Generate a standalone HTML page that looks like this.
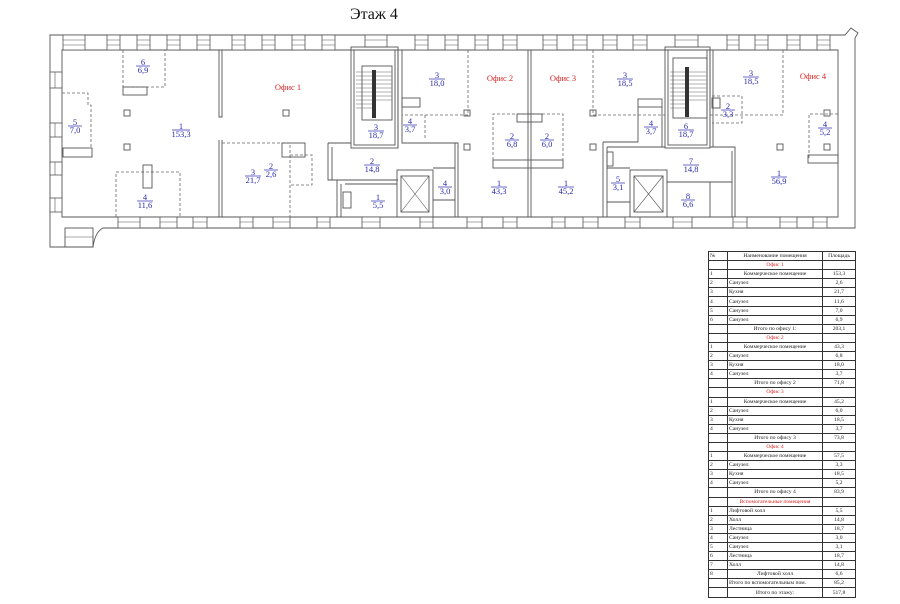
<!DOCTYPE html>
<html><head><meta charset="utf-8"><style>
body{margin:0;background:#fff;width:900px;height:604px;overflow:hidden;position:relative;font-family:"Liberation Serif",serif}
svg{position:absolute;left:0;top:0}
.w{fill:none;stroke:#555;stroke-width:0.9}
.d{fill:none;stroke:#666;stroke-width:0.8;stroke-dasharray:3,2}
.l text{font-family:"Liberation Serif",serif;font-size:8.5px;fill:#2b2bb0;text-anchor:middle}
.l line{stroke:#2b2bb0;stroke-width:0.7}
.r{font-family:"Liberation Serif",serif;font-size:8.5px;fill:#d22;text-anchor:middle}
table{position:absolute;left:708px;top:251px;width:147px;border-collapse:collapse;table-layout:fixed;font-family:"Liberation Serif",serif;font-size:5.6px;color:#222}
td{border:0.8px solid #333;height:8.1px;padding:0 1px;line-height:8px;white-space:nowrap;overflow:hidden}
td.c{text-align:center}td.red{color:#d22;text-align:center}
</style></head><body>
<svg width="900" height="604" viewBox="0 0 900 604">
<text x="350" y="19" font-family="Liberation Serif" font-size="16" fill="#111">Этаж 4</text>
<!-- outer walls -->
<path class="w" d="M50,35 H845 L851,28 L858,33 L855,38 V228 H103 Q95,232 93,247 H50 Z"/>
<path class="w" d="M62,50 H838 V217 H62 Z"/>
<rect class="w" x="65" y="228" width="28" height="19"/>
<!-- top windows -->
<g fill="#fff" stroke="#555" stroke-width="0.8">
<rect x="63" y="35" width="22" height="15"/><rect x="107" y="35" width="13" height="15"/><rect x="137" y="35" width="13" height="15"/><rect x="167" y="35" width="13" height="15"/><rect x="197" y="35" width="13" height="15"/><rect x="232" y="35" width="13" height="15"/><rect x="262" y="35" width="13" height="15"/><rect x="292" y="35" width="13" height="15"/><rect x="322" y="35" width="13" height="15"/><rect x="365" y="35" width="22" height="12"/><rect x="415" y="35" width="13" height="15"/><rect x="445" y="35" width="13" height="15"/><rect x="475" y="35" width="13" height="15"/><rect x="503" y="35" width="14" height="15"/><rect x="543" y="35" width="14" height="15"/><rect x="573" y="35" width="14" height="15"/><rect x="603" y="35" width="14" height="15"/><rect x="633" y="35" width="14" height="15"/><rect x="675" y="35" width="23" height="12"/><rect x="727" y="35" width="12" height="15"/><rect x="755" y="35" width="13" height="15"/><rect x="787" y="35" width="13" height="15"/><rect x="817" y="35" width="13" height="15"/>
<!-- bottom windows -->
<rect x="118" y="217" width="22" height="11"/><rect x="160" y="217" width="17" height="11"/><rect x="193" y="217" width="14" height="11"/><rect x="240" y="217" width="13" height="11"/><rect x="273" y="217" width="17" height="11"/><rect x="317" y="217" width="13" height="11"/><rect x="362" y="217" width="18" height="11"/><rect x="420" y="217" width="13" height="11"/><rect x="467" y="217" width="15" height="11"/><rect x="503" y="217" width="14" height="11"/><rect x="552" y="217" width="13" height="11"/><rect x="583" y="217" width="15" height="11"/><rect x="625" y="217" width="15" height="11"/><rect x="673" y="217" width="19" height="11"/><rect x="733" y="217" width="14" height="11"/><rect x="780" y="217" width="17" height="11"/><rect x="813" y="217" width="14" height="11"/>
<!-- left windows -->
<rect x="50" y="72" width="12" height="16"/><rect x="50" y="123" width="12" height="14"/><rect x="50" y="162" width="12" height="13"/><rect x="50" y="198" width="12" height="14"/>
</g>
<g stroke="#555" stroke-width="0.6">
<path d="M63,40H85M63,45H85M107,40H120M107,45H120M137,40H150M137,45H150M167,40H180M167,45H180M197,40H210M197,45H210M232,40H245M232,45H245M262,40H275M262,45H275M292,40H305M292,45H305M322,40H335M322,45H335M365,40H387M415,40H428M415,45H428M445,40H458M445,45H458M475,40H488M475,45H488M503,40H517M503,45H517M543,40H557M543,45H557M573,40H587M573,45H587M603,40H617M603,45H617M633,40H647M633,45H647M675,40H698M727,40H739M727,45H739M755,40H768M755,45H768M787,40H800M787,45H800M817,40H830M817,45H830"/>
<path d="M118,222H140M160,222H177M193,222H207M240,222H253M273,222H290M317,222H330M362,222H380M420,222H433M467,222H482M503,222H517M552,222H565M583,222H598M625,222H640M673,222H692M733,222H747M780,222H797M813,222H827M65,237H93M55,72V88M55,123V137M55,162V175M55,198V212"/>
</g>
<!-- partitions -->
<path class="w" d="M219,50V117H222V50M219,140V217M222,140V217"/>
<path class="w" d="M528,50V217M531,50V217"/>
<path class="w" d="M398,50V148M402,50V143H458V217M455,143V217"/>
<path class="w" d="M710,50V147M713,50V147"/>
<!-- stair 1 -->
<rect class="w" x="351" y="47" width="47" height="101"/><rect class="w" x="354" y="50" width="41" height="95"/>
<rect class="w" x="362" y="66" width="30" height="54"/>
<path stroke="#666" stroke-width="0.6" d="M356,72H392M356,76H392M356,80H392M356,84H392M356,88H392M356,92H392M356,96H392M356,100H392M356,104H372M356,108H372"/>
<rect x="372" y="70" width="4" height="48" fill="#333"/>
<!-- hall 1 -->
<path class="w" d="M328,143H351M328,143V180H337V217M332,147V180M332,180H398M341,184V217M345,184H397"/>
<rect class="w" x="343" y="192" width="8" height="16"/>
<!-- lift 1 -->
<rect class="w" x="397" y="170" width="36" height="47"/><rect class="w" x="401" y="176" width="28" height="36"/>
<path stroke="#555" stroke-width="0.6" d="M401,176L429,212M429,176L401,212"/>
<path class="w" d="M433,168H455M433,200H455"/>
<!-- stair 2 -->
<rect class="w" x="665" y="47" width="45" height="101"/><rect class="w" x="668" y="50" width="39" height="95"/>
<rect class="w" x="673" y="58" width="34" height="60"/>
<path stroke="#666" stroke-width="0.6" d="M670,72H706M670,76H706M670,80H706M670,84H706M670,88H706M670,92H706M670,96H706M670,100H706M670,104H686M670,108H686"/>
<rect x="685" y="67" width="4" height="50" fill="#333"/>
<!-- core 2 -->
<path class="w" d="M603,142V217M607,147V217M603,142H638M638,107V142M662,107V147M607,147H665M710,147H735V217M732,151V217M607,168H630M607,202H630M667,182H732M710,182V217"/>
<rect class="w" x="630" y="170" width="37" height="47"/><rect class="w" x="634" y="176" width="29" height="36"/>
<path stroke="#555" stroke-width="0.6" d="M634,176L663,212M663,176L634,212"/>
<!-- dashed rooms -->
<path class="d" d="M123,50V87H165V50"/>
<path class="d" d="M62,93H88V105H91V148"/>
<path class="d" d="M116,217V172H180V217"/>
<path class="d" d="M222,143H290V217M290,155H312V185H290"/>
<path class="d" d="M468,50V115H402M425,115V140"/>
<path class="d" d="M493,160V114H563V160"/>
<path class="d" d="M593,50V115H665M638,115V107"/>
<path class="d" d="M783,50V115H710M712,96H742V123H712"/>
<path class="d" d="M838,114H809V160"/>
<!-- fixtures -->
<g class="w"><rect x="123" y="87" width="24" height="8"/><rect x="63" y="148" width="29" height="9"/><rect x="143" y="165" width="9" height="23"/><rect x="282" y="143" width="23" height="14"/><rect x="517" y="114" width="25" height="8"/><rect x="493" y="160" width="70" height="8"/><rect x="638" y="99" width="24" height="8"/><rect x="712" y="98" width="8" height="10"/><rect x="808" y="155" width="30" height="8"/><rect x="402" y="98" width="18" height="9"/><rect x="607" y="152" width="6" height="14"/>
<rect x="124" y="110" width="6" height="6"/><rect x="124" y="144" width="6" height="6"/><rect x="283" y="110" width="6" height="6"/><rect x="464" y="110" width="6" height="6"/><rect x="464" y="144" width="6" height="6"/><rect x="590" y="110" width="6" height="6"/><rect x="590" y="144" width="6" height="6"/><rect x="777" y="144" width="6" height="6"/><rect x="824" y="110" width="6" height="6"/><rect x="824" y="144" width="6" height="6"/></g>
<!-- red labels -->
<text class="r" x="288" y="90">Офис 1</text><text class="r" x="500" y="81">Офис 2</text><text class="r" x="563" y="81">Офис 3</text><text class="r" x="813" y="79">Офис 4</text>
<!-- blue labels -->
<g class="l" transform="translate(143,66)"><text y="-1">6</text><line x1="-7" x2="7"/><text y="7">6,9</text></g>
<g class="l" transform="translate(75,126)"><text y="-1">5</text><line x1="-7" x2="7"/><text y="7">7,0</text></g>
<g class="l" transform="translate(181,130)"><text y="-1">1</text><line x1="-9" x2="9"/><text y="7">153,3</text></g>
<g class="l" transform="translate(145,201)"><text y="-1">4</text><line x1="-8" x2="8"/><text y="7">11,6</text></g>
<g class="l" transform="translate(253,176)"><text y="-1">3</text><line x1="-8" x2="8"/><text y="7">21,7</text></g>
<g class="l" transform="translate(271,170)"><text y="-1">2</text><line x1="-7" x2="7"/><text y="7">2,6</text></g>
<g class="l" transform="translate(376,131)"><text y="-1">3</text><line x1="-8" x2="8"/><text y="7">18,7</text></g>
<g class="l" transform="translate(372,165)"><text y="-1">2</text><line x1="-8" x2="8"/><text y="7">14,8</text></g>
<g class="l" transform="translate(378,201)"><text y="-1">1</text><line x1="-7" x2="7"/><text y="7">5,5</text></g>
<g class="l" transform="translate(445,187)"><text y="-1">4</text><line x1="-7" x2="7"/><text y="7">3,0</text></g>
<g class="l" transform="translate(437,79)"><text y="-1">3</text><line x1="-8" x2="8"/><text y="7">18,0</text></g>
<g class="l" transform="translate(410,125)"><text y="-1">4</text><line x1="-7" x2="7"/><text y="7">3,7</text></g>
<g class="l" transform="translate(512,140)"><text y="-1">2</text><line x1="-7" x2="7"/><text y="7">6,8</text></g>
<g class="l" transform="translate(547,140)"><text y="-1">2</text><line x1="-7" x2="7"/><text y="7">6,0</text></g>
<g class="l" transform="translate(499,187)"><text y="-1">1</text><line x1="-8" x2="8"/><text y="7">43,3</text></g>
<g class="l" transform="translate(566,187)"><text y="-1">1</text><line x1="-8" x2="8"/><text y="7">45,2</text></g>
<g class="l" transform="translate(625,79)"><text y="-1">3</text><line x1="-8" x2="8"/><text y="7">18,5</text></g>
<g class="l" transform="translate(651,127)"><text y="-1">4</text><line x1="-7" x2="7"/><text y="7">3,7</text></g>
<g class="l" transform="translate(686,130)"><text y="-1">6</text><line x1="-8" x2="8"/><text y="7">18,7</text></g>
<g class="l" transform="translate(618,183)"><text y="-1">5</text><line x1="-7" x2="7"/><text y="7">3,1</text></g>
<g class="l" transform="translate(691,165)"><text y="-1">7</text><line x1="-8" x2="8"/><text y="7">14,8</text></g>
<g class="l" transform="translate(688,200)"><text y="-1">8</text><line x1="-7" x2="7"/><text y="7">6,6</text></g>
<g class="l" transform="translate(751,77)"><text y="-1">3</text><line x1="-8" x2="8"/><text y="7">18,5</text></g>
<g class="l" transform="translate(728,110)"><text y="-1">2</text><line x1="-7" x2="7"/><text y="7">3,3</text></g>
<g class="l" transform="translate(825,128)"><text y="-1">4</text><line x1="-7" x2="7"/><text y="7">5,2</text></g>
<g class="l" transform="translate(779,177)"><text y="-1">1</text><line x1="-8" x2="8"/><text y="7">56,9</text></g>
</svg>
<table>
<colgroup><col style="width:19px"><col style="width:95px"><col style="width:33px"></colgroup>
<tr><td>№</td><td class="c">Наименование помещения</td><td class="c">Площадь</td></tr>
<tr><td></td><td class="red">Офис 1</td><td></td></tr>
<tr><td>1</td><td class="c">Коммерческое помещение</td><td class="c">153,3</td></tr>
<tr><td>2</td><td>Санузел</td><td class="c">2,6</td></tr>
<tr><td>3</td><td>Кухня</td><td class="c">21,7</td></tr>
<tr><td>4</td><td>Санузел</td><td class="c">11,6</td></tr>
<tr><td>5</td><td>Санузел</td><td class="c">7,0</td></tr>
<tr><td>6</td><td>Санузел</td><td class="c">6,9</td></tr>
<tr><td></td><td class="c">Итого по офису 1:</td><td class="c">203,1</td></tr>
<tr><td></td><td class="red">Офис 2</td><td></td></tr>
<tr><td>1</td><td class="c">Коммерческое помещение</td><td class="c">43,3</td></tr>
<tr><td>2</td><td>Санузел</td><td class="c">6,8</td></tr>
<tr><td>3</td><td>Кухня</td><td class="c">18,0</td></tr>
<tr><td>4</td><td>Санузел</td><td class="c">3,7</td></tr>
<tr><td></td><td class="c">Итого по офису 2</td><td class="c">71,8</td></tr>
<tr><td></td><td class="red">Офис 3</td><td></td></tr>
<tr><td>1</td><td class="c">Коммерческое помещение</td><td class="c">45,2</td></tr>
<tr><td>2</td><td>Санузел</td><td class="c">6,0</td></tr>
<tr><td>3</td><td>Кухня</td><td class="c">18,5</td></tr>
<tr><td>4</td><td>Санузел</td><td class="c">3,7</td></tr>
<tr><td></td><td class="c">Итого по офису 3</td><td class="c">73,8</td></tr>
<tr><td></td><td class="red">Офис 4</td><td></td></tr>
<tr><td>1</td><td class="c">Коммерческое помещение</td><td class="c">57,5</td></tr>
<tr><td>2</td><td>Санузел</td><td class="c">3,3</td></tr>
<tr><td>3</td><td>Кухня</td><td class="c">18,5</td></tr>
<tr><td>4</td><td>Санузел</td><td class="c">5,2</td></tr>
<tr><td></td><td class="c">Итого по офису 4</td><td class="c">83,9</td></tr>
<tr><td></td><td class="red">Вспомогательные помещения</td><td></td></tr>
<tr><td>1</td><td>Лифтовой холл</td><td class="c">5,5</td></tr>
<tr><td>2</td><td>Холл</td><td class="c">14,8</td></tr>
<tr><td>3</td><td>Лестница</td><td class="c">18,7</td></tr>
<tr><td>4</td><td>Санузел</td><td class="c">3,0</td></tr>
<tr><td>5</td><td>Санузел</td><td class="c">3,1</td></tr>
<tr><td>6</td><td>Лестница</td><td class="c">18,7</td></tr>
<tr><td>7</td><td>Холл</td><td class="c">14,8</td></tr>
<tr><td>8</td><td class="c">Лифтовой холл</td><td class="c">6,6</td></tr>
<tr><td></td><td>Итого по вспомогательным пом.</td><td class="c">85,2</td></tr>
<tr><td></td><td class="c">Итого по этажу:</td><td class="c">517,8</td></tr>
</table>
</body></html>
